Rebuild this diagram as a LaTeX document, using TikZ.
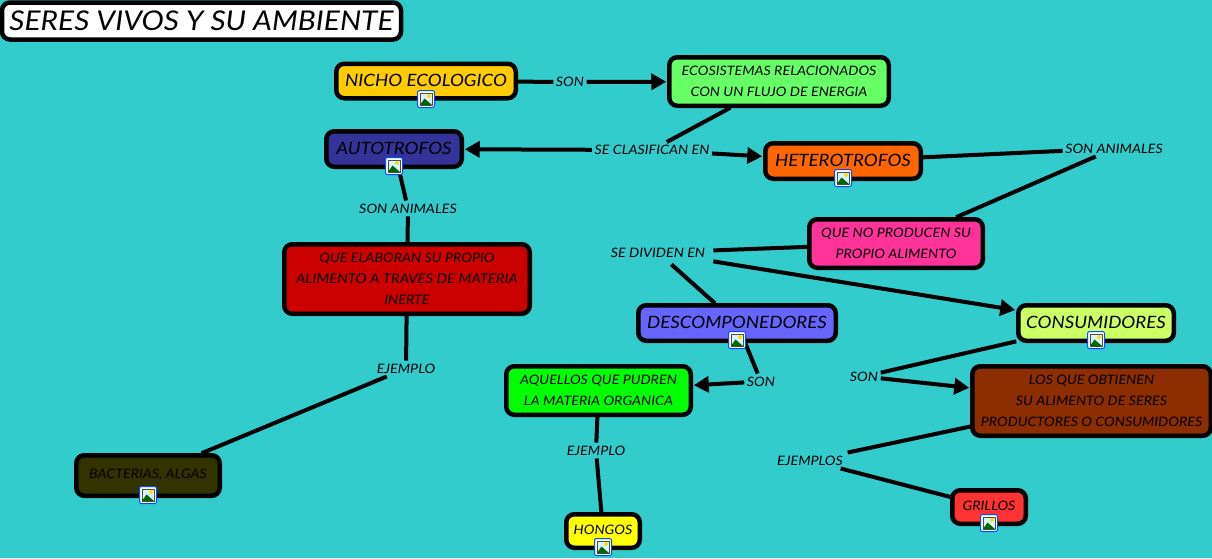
\documentclass[tikz,border=0pt]{standalone}
\usepackage{fontspec}
\setmainfont{Lato}[ItalicFont={Lato Italic},ItalicFeatures={FakeStretch=1.1}]
\usetikzlibrary{arrows.meta,backgrounds}
\definecolor{bgc}{RGB}{51,204,204}
\definecolor{cNicho}{RGB}{255,204,0}
\definecolor{cEco}{RGB}{102,255,102}
\definecolor{cAuto}{RGB}{51,51,153}
\definecolor{cHetero}{RGB}{255,102,0}
\definecolor{cQueno}{RGB}{255,51,153}
\definecolor{cElab}{RGB}{204,0,0}
\definecolor{cDesc}{RGB}{102,102,255}
\definecolor{cCons}{RGB}{204,255,102}
\definecolor{cLos}{RGB}{140,46,0}
\definecolor{cAque}{RGB}{0,255,0}
\definecolor{cBact}{RGB}{51,51,0}
\definecolor{cHong}{RGB}{255,255,0}
\definecolor{cGril}{RGB}{255,51,51}
\tikzset{
  box/.style={draw=black,line width=4.5pt,rounded corners=8pt,inner sep=0pt,align=center,text=black,outer sep=2pt},
  big/.style={font=\itshape\fontsize{17}{21}\selectfont},
  small/.style={font=\itshape\fontsize{13}{21}\selectfont},
  lab/.style={font=\itshape\fontsize{13}{15}\selectfont,inner xsep=2.5pt,inner ysep=3pt,text=black},
  link/.style={line width=4pt,draw=black},
  arr/.style={link,-{Triangle[length=15pt,width=16pt]},shorten >=1pt},
}
\newcommand{\picicon}[1]{%
  \begin{scope}[shift={(#1)}]
    \fill[white,draw=blue!70!cyan,line width=1pt,rounded corners=2pt] (-8.5,-8.5) rectangle (8.5,8.5);
    \fill[cyan!15] (-6,-6) rectangle (6,6);
    \draw[black!70,line width=.8pt] (-6,-6) rectangle (6,6);
    \fill[yellow!80!orange] (3,-3) circle (2);
    \fill[green!40!black] (-6,6) -- (-1.5,-0.5) -- (6,6) -- cycle;
  \end{scope}}
\begin{document}
\begin{tikzpicture}[x=1pt,y=-1pt]
\useasboundingbox (0,0) rectangle (1212,558);
% concepts
\node[box,fill=white,minimum width=399pt,minimum height=37pt,font=\itshape\fontsize{27.2}{28}\selectfont] (title) at (201.5,21) {SERES VIVOS Y SU AMBIENTE};
\node[box,big,fill=cNicho,minimum width=179.5pt,minimum height=34.5pt] (nicho) at (426,81) {\raisebox{1pt}{NICHO ECOLOGICO}};
\node[box,small,fill=cEco,minimum width=219.5pt,minimum height=48.5pt] (eco) at (779,81.5) {ECOSISTEMAS RELACIONADOS\\CON UN FLUJO DE ENERGIA};
\node[box,big,fill=cAuto,minimum width=135.5pt,minimum height=35.5pt] (auto) at (394,149) {\raisebox{2pt}{AUTOTROFOS}};
\node[box,big,fill=cHetero,minimum width=155.5pt,minimum height=35.5pt] (hetero) at (843,161) {\raisebox{1pt}{HETEROTROFOS}};
\node[box,small,fill=cQueno,minimum width=173.5pt,minimum height=48.5pt] (queno) at (896,243.5) {QUE NO PRODUCEN SU\hspace{3pt}\\PROPIO ALIMENTO\hspace{3pt}};
\node[box,small,fill=cElab,minimum width=245.5pt,minimum height=69.5pt] (elab) at (407,279) {QUE ELABORAN SU PROPIO\hspace{3pt}\\{\fontsize{13.5}{21}\selectfont ALIMENTO A TRAVES DE MATERIA}\hspace{5pt}\\INERTE};
\node[box,big,fill=cDesc,minimum width=197.5pt,minimum height=35.5pt] (desc) at (737,323) {\raisebox{1pt}{DESCOMPONEDORES}};
\node[box,big,fill=cCons,minimum width=155.5pt,minimum height=35.5pt] (cons) at (1096,323) {\raisebox{1pt}{CONSUMIDORES}};
\node[box,small,fill=cLos,minimum width=238.5pt,minimum height=69.5pt] (los) at (1091.5,401) {LOS QUE OBTIENEN\\SU ALIMENTO DE SERES\\PRODUCTORES O CONSUMIDORES};
\node[box,small,fill=cAque,minimum width=184.5pt,minimum height=48.5pt] (aque) at (598.5,390.5) {AQUELLOS QUE PUDREN\\LA MATERIA ORGANICA};
\node[box,small,fill=cBact,minimum width=143.5pt,minimum height=40.5pt] (bact) at (148,475.5) {\raisebox{3pt}{BACTERIAS, ALGAS}};
\node[box,small,fill=cHong,minimum width=73.5pt,minimum height=33.5pt] (hong) at (603,531) {\raisebox{2pt}{HONGOS}};
\node[box,small,fill=cGril,minimum width=73.5pt,minimum height=33.5pt] (gril) at (989,507) {\raisebox{2pt}{GRILLOS}};
% linking phrases
\node[lab] (lSon1) at (570,82) {SON};
\node[lab] (lClas) at (652,150) {SE CLASIFICAN EN};
\node[lab] (lAni1) at (1114,148.5) {SON ANIMALES};
\node[lab] (lAni2) at (408,208.5) {SON ANIMALES};
\node[lab,inner xsep=8pt,inner ysep=7pt] (lDiv) at (658,252.5) {SE DIVIDEN EN};
\node[lab] (lEj1) at (406,368.5) {EJEMPLO};
\node[lab] (lSon2) at (761,381.5) {SON};
\node[lab] (lSon3) at (864,376.5) {SON};
\node[lab] (lEj2) at (596,450.5) {EJEMPLO};
\node[lab,inner xsep=6pt] (lEjs) at (810,460.5) {EJEMPLOS};
% connectors
\begin{scope}[on background layer]
\fill[bgc] (0,0) rectangle (1212,558);
\draw[link] (nicho) -- (lSon1);
\draw[arr] (lSon1) -- (eco);
\draw[link] (eco) -- (lClas);
\draw[arr] (lClas) -- (auto);
\draw[arr] (lClas) -- (hetero);
\draw[link] (hetero) -- (lAni1);
\draw[link] (lAni1) -- (queno);
\draw[link] (queno) -- (lDiv);
\draw[link] (lDiv) -- (desc);
\draw[arr] (lDiv) -- (cons);
\draw[link] (desc) -- (lSon2);
\draw[arr] (lSon2) -- (aque);
\draw[link] (cons) -- (lSon3);
\draw[arr] (lSon3) -- (los);
\draw[link] (los) -- (lEjs);
\draw[link] (lEjs) -- (gril);
\draw[link] (aque) -- (lEj2);
\draw[link] (lEj2) -- (hong);
\draw[link] (auto) -- (lAni2);
\draw[link] (lAni2) -- (elab);
\draw[link] (elab) -- (lEj1);
\draw[link] (lEj1) -- (bact);
\end{scope}
% image markers
\picicon{426,99}
\picicon{394,166}
\picicon{843,178}
\picicon{737,340}
\picicon{1096,340}
\picicon{148,495}
\picicon{603,547}
\picicon{989,523}
\end{tikzpicture}
\end{document}
